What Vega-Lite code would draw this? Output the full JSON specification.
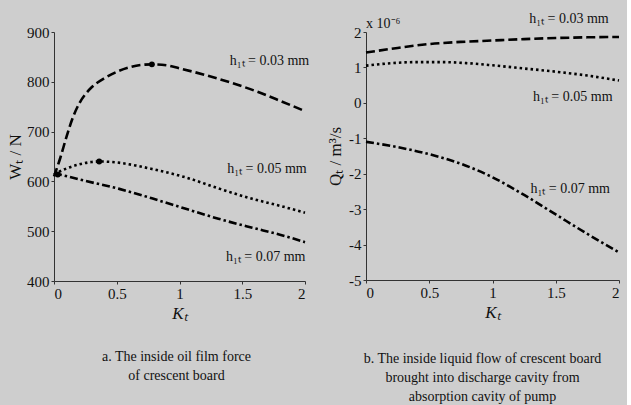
{
  "$schema": "https://vega.github.io/schema/vega-lite/v6.json",
  "background": "#cecece",
  "padding": {"left": 6, "top": 11, "right": 2, "bottom": 2},
  "spacing": 15,
  "config": {
    "view": {"stroke": null},
    "font": "Times New Roman, Liberation Serif, serif",
    "axis": {
      "grid": false,
      "domainColor": "#333333",
      "tickColor": "#333333",
      "labelColor": "#111111",
      "labelFont": "Times New Roman, Liberation Serif, serif",
      "labelFontSize": 15,
      "titleFont": "Times New Roman, Liberation Serif, serif",
      "titleFontSize": 17,
      "titleFontWeight": "normal",
      "titleColor": "#111111",
      "tickSize": 3,
      "labelPadding": 2
    },
    "title": {"font": "Times New Roman, Liberation Serif, serif", "fontSize": 14, "fontWeight": "normal", "color": "#111111", "lineHeight": 19}
  },
  "hconcat": [
    {
      "width": 251,
      "height": 249,
      "title": {"text": ["a. The inside oil film force", "of crescent board"], "orient": "bottom", "offset": 29, "anchor": "middle", "dx": -3},
      "layer": [
        {
          "data": {"values": [
            {"h": "0.03", "K": 0, "W": 610}, {"h": "0.03", "K": 0.05, "W": 647}, {"h": "0.03", "K": 0.1, "W": 690}, {"h": "0.03", "K": 0.15, "W": 728}, {"h": "0.03", "K": 0.2, "W": 756}, {"h": "0.03", "K": 0.25, "W": 775}, {"h": "0.03", "K": 0.3, "W": 789}, {"h": "0.03", "K": 0.4, "W": 807}, {"h": "0.03", "K": 0.5, "W": 820}, {"h": "0.03", "K": 0.6, "W": 829}, {"h": "0.03", "K": 0.7, "W": 834}, {"h": "0.03", "K": 0.78, "W": 835}, {"h": "0.03", "K": 0.9, "W": 833}, {"h": "0.03", "K": 1.0, "W": 827}, {"h": "0.03", "K": 1.2, "W": 814}, {"h": "0.03", "K": 1.4, "W": 799}, {"h": "0.03", "K": 1.6, "W": 782}, {"h": "0.03", "K": 1.8, "W": 762}, {"h": "0.03", "K": 2.0, "W": 741},
            {"h": "0.05", "K": 0, "W": 614}, {"h": "0.05", "K": 0.1, "W": 626}, {"h": "0.05", "K": 0.2, "W": 634}, {"h": "0.05", "K": 0.3, "W": 639}, {"h": "0.05", "K": 0.36, "W": 640}, {"h": "0.05", "K": 0.5, "W": 638}, {"h": "0.05", "K": 0.65, "W": 632}, {"h": "0.05", "K": 0.78, "W": 625}, {"h": "0.05", "K": 1.05, "W": 608}, {"h": "0.05", "K": 1.31, "W": 586}, {"h": "0.05", "K": 1.58, "W": 565}, {"h": "0.05", "K": 1.8, "W": 551}, {"h": "0.05", "K": 2.0, "W": 537},
            {"h": "0.07", "K": 0, "W": 617}, {"h": "0.07", "K": 0.25, "W": 601}, {"h": "0.07", "K": 0.52, "W": 585}, {"h": "0.07", "K": 0.78, "W": 566}, {"h": "0.07", "K": 1.05, "W": 545}, {"h": "0.07", "K": 1.31, "W": 525}, {"h": "0.07", "K": 1.58, "W": 507}, {"h": "0.07", "K": 1.8, "W": 493}, {"h": "0.07", "K": 2.0, "W": 478}
          ]},
          "mark": {"type": "line", "interpolate": "monotone", "color": "#000000", "strokeWidth": 2.6},
          "encoding": {
            "x": {"field": "K", "type": "quantitative", "scale": {"domain": [0, 2]}, "axis": {"title": "Kₜ", "titleFontStyle": "italic", "values": [0, 0.5, 1, 1.5, 2], "format": "~g", "titlePadding": 4}},
            "y": {"field": "W", "type": "quantitative", "scale": {"domain": [400, 900]}, "axis": {"title": "Wₜ / N", "values": [400, 500, 600, 700, 800, 900], "labelOverlap": false, "titlePadding": 2}},
            "strokeDash": {"field": "h", "type": "nominal", "scale": {"domain": ["0.03", "0.05", "0.07"], "range": [[9, 4], [2.5, 3], [8, 3, 2.5, 3]]}, "legend": null}
          }
        },
        {
          "data": {"values": [{"K": 0.78, "W": 835}, {"K": 0.36, "W": 640}, {"K": 0.03, "W": 614}]},
          "mark": {"type": "point", "filled": true, "color": "#000000", "size": 35, "opacity": 1},
          "encoding": {"x": {"field": "K", "type": "quantitative"}, "y": {"field": "W", "type": "quantitative"}}
        },
        {
          "data": {"values": [
            {"K": 1.4, "W": 842, "t": "h₁ₜ = 0.03 mm"},
            {"K": 1.38, "W": 625, "t": "h₁ₜ = 0.05 mm"},
            {"K": 1.37, "W": 448, "t": "h₁ₜ = 0.07 mm"}
          ]},
          "mark": {"type": "text", "align": "left", "baseline": "middle", "font": "Times New Roman, Liberation Serif, serif", "fontSize": 14, "color": "#111111"},
          "encoding": {"x": {"field": "K", "type": "quantitative"}, "y": {"field": "W", "type": "quantitative"}, "text": {"field": "t"}}
        }
      ]
    },
    {
      "width": 253,
      "height": 248,
      "title": {"text": ["b. The inside liquid flow of crescent board", "brought into discharge cavity from", "absorption cavity of pump"], "orient": "bottom", "offset": 32, "anchor": "middle", "dx": -10},
      "layer": [
        {
          "data": {"values": [
            {"h": "0.03", "K": 0, "Q": 1.42}, {"h": "0.03", "K": 0.25, "Q": 1.55}, {"h": "0.03", "K": 0.5, "Q": 1.66}, {"h": "0.03", "K": 0.75, "Q": 1.72}, {"h": "0.03", "K": 1.0, "Q": 1.76}, {"h": "0.03", "K": 1.25, "Q": 1.8}, {"h": "0.03", "K": 1.5, "Q": 1.83}, {"h": "0.03", "K": 1.75, "Q": 1.85}, {"h": "0.03", "K": 2.0, "Q": 1.86},
            {"h": "0.05", "K": 0, "Q": 1.05}, {"h": "0.05", "K": 0.2, "Q": 1.12}, {"h": "0.05", "K": 0.4, "Q": 1.15}, {"h": "0.05", "K": 0.6, "Q": 1.15}, {"h": "0.05", "K": 0.8, "Q": 1.12}, {"h": "0.05", "K": 1.0, "Q": 1.06}, {"h": "0.05", "K": 1.25, "Q": 0.97}, {"h": "0.05", "K": 1.5, "Q": 0.88}, {"h": "0.05", "K": 1.75, "Q": 0.77}, {"h": "0.05", "K": 2.0, "Q": 0.63},
            {"h": "0.07", "K": 0, "Q": -1.1}, {"h": "0.07", "K": 0.25, "Q": -1.25}, {"h": "0.07", "K": 0.5, "Q": -1.45}, {"h": "0.07", "K": 0.75, "Q": -1.72}, {"h": "0.07", "K": 1.0, "Q": -2.1}, {"h": "0.07", "K": 1.25, "Q": -2.6}, {"h": "0.07", "K": 1.5, "Q": -3.15}, {"h": "0.07", "K": 1.75, "Q": -3.7}, {"h": "0.07", "K": 2.0, "Q": -4.22}
          ]},
          "mark": {"type": "line", "interpolate": "monotone", "color": "#000000", "strokeWidth": 2.6},
          "encoding": {
            "x": {"field": "K", "type": "quantitative", "scale": {"domain": [0, 2]}, "axis": {"title": "Kₜ", "titleFontStyle": "italic", "values": [0, 0.5, 1, 1.5, 2], "format": "~g", "titlePadding": 4}},
            "y": {"field": "Q", "type": "quantitative", "scale": {"domain": [-5, 2], "nice": false}, "axis": {"title": "Qₜ / m³/s", "tickCount": 7, "format": "d", "labelExpr": "replace(datum.label, '−', '-')", "labelOverlap": false, "labelSeparation": 0, "titlePadding": 4}},
            "strokeDash": {"field": "h", "type": "nominal", "scale": {"domain": ["0.03", "0.05", "0.07"], "range": [[9, 4], [2.5, 3], [8, 3, 2.5, 3]]}, "legend": null}
          }
        },
        {
          "data": {"values": [
            {"K": 1.29, "Q": 2.37, "t": "h₁ₜ = 0.03 mm"},
            {"K": 1.32, "Q": 0.16, "t": "h₁ₜ = 0.05 mm"},
            {"K": 1.3, "Q": -2.43, "t": "h₁ₜ = 0.07 mm"},
            {"K": 0.0, "Q": 2.22, "t": "x 10⁻⁶"}
          ]},
          "mark": {"type": "text", "align": "left", "baseline": "middle", "font": "Times New Roman, Liberation Serif, serif", "fontSize": 14, "color": "#111111"},
          "encoding": {"x": {"field": "K", "type": "quantitative"}, "y": {"field": "Q", "type": "quantitative"}, "text": {"field": "t"}}
        }
      ]
    }
  ]
}
